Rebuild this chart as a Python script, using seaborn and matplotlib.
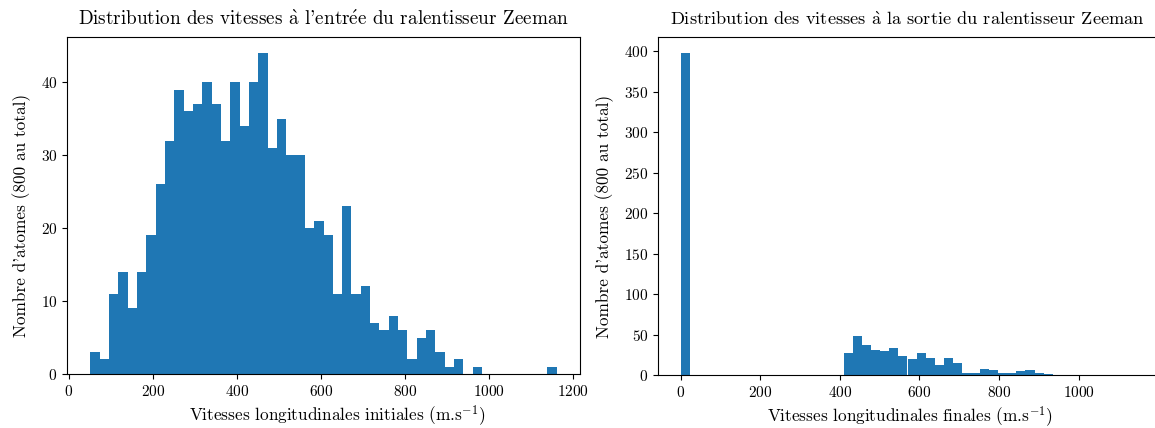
import numpy as np
import pandas as pd
import matplotlib
matplotlib.use("Agg")
import matplotlib.pyplot as plt
import seaborn as sns

# ---- data ----
# initial velocity histogram: 50 bins between v_in_min and v_in_max
v_in_min, v_in_max = 51.0, 1162.0
counts_in = [3, 2, 11, 14, 9, 14, 19, 26, 32, 39,
             36, 37, 40, 37, 32, 40, 34, 40, 44, 31,
             35, 30, 30, 20, 21, 19, 11, 23, 11, 12,
             7, 6, 8, 6, 2, 5, 6, 3, 1, 2,
             0, 1, 0, 0, 0, 0, 0, 0, 0, 1]

# final velocity histogram: 50 bins between v_out_min and v_out_max
v_out_min, v_out_max = 0.0, 1140.0
counts_out = [398, 0, 0, 0, 0, 0, 0, 0, 0, 0,
              0, 0, 0, 0, 0, 0, 0, 0, 27, 48,
              37, 31, 30, 33, 23, 20, 27, 21, 12, 21,
              15, 3, 3, 8, 6, 3, 3, 5, 6, 2,
              1, 0, 0, 0, 0, 0, 0, 0, 0, 0]

titles = [r"Distribution des vitesses $\mathrm{\grave{a}}$ l'entr$\mathrm{\acute{e}}$e du ralentisseur Zeeman",
          r"Distribution des vitesses $\mathrm{\grave{a}}$ la sortie du ralentisseur Zeeman"]
xlabels = [r"Vitesses longitudinales initiales (m.s$^{-1}$)",
           r"Vitesses longitudinales finales (m.s$^{-1}$)"]
ylabel = "Nombre d'atomes (800 au total)"

plt.rcParams["font.family"] = ["cmr10", "DejaVu Serif"]
plt.rcParams["mathtext.fontset"] = "cm"
plt.rcParams["axes.unicode_minus"] = False
plt.rcParams["axes.formatter.use_mathtext"] = True

W, H = 1155, 428
fig = plt.figure(figsize=(W / 100, H / 100), dpi=100)
ax1 = fig.add_axes([67 / W, (H - 374) / H, 513 / W, 337 / H])
ax2 = fig.add_axes([658 / W, (H - 375) / H, 499 / W, 338 / H])


def draw(ax, vmin, vmax, counts, title, xlabel, tsize, xlab_x):
    n = len(counts)
    edges = np.linspace(vmin, vmax, n + 1)
    centers = 0.5 * (edges[:-1] + edges[1:])
    df = pd.DataFrame({"v": centers, "n": np.asarray(counts, dtype=float)})
    sns.histplot(data=df, x="v", weights="n", bins=n, binrange=(vmin, vmax),
                 ax=ax, color="#1f77b4", alpha=1, linewidth=0,
                 edgecolor="none")
    ax.set_title(title, fontsize=tsize, pad=8.5)
    ax.set_xlabel(xlabel, fontsize=12.4, labelpad=3)
    ax.set_ylabel(ylabel, fontsize=12.4, labelpad=7)
    ax.tick_params(labelsize=11)
    ax.xaxis.label.set_x(xlab_x)
    ax.yaxis.label.set_y(0.47)


draw(ax1, v_in_min, v_in_max, counts_in, titles[0], xlabels[0], 13.8, 0.527)
draw(ax2, v_out_min, v_out_max, counts_out, titles[1], xlabels[1], 13.2, 0.505)

fig.savefig("out.png", dpi=100)
